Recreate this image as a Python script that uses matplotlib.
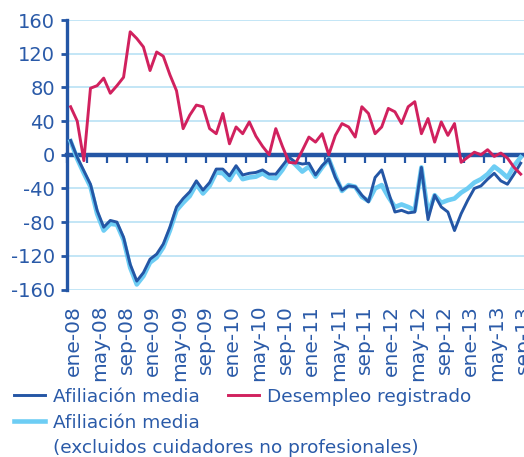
import matplotlib
matplotlib.use('Agg')
import matplotlib.pyplot as plt
import matplotlib.transforms as mtransforms
from matplotlib.lines import Line2D

# Colours
darkBlue = '#2456a5'
lightBlue = '#6dcdf4'
red = '#d1215e'
textBlue = '#2a5aa8'
gridBlue = '#c3e6f6'

plt.rcParams['font.family'] = ['DejaVu Sans']
plt.rcParams['axes.unicode_minus'] = False

# Data: monthly changes, ene-08 .. sep-13 (thousands)
afiliacion = [17, -3, -19, -35, -66, -86, -78, -80, -98, -130, -150, -140,
              -124, -118, -106, -86, -62, -52, -44, -31, -42, -33, -17, -17,
              -25, -13, -24, -22, -21, -18, -23, -23, -13, -3, -9, -11,
              -10, -24, -13, -5, -27, -42, -37, -38, -48, -56, -27, -18,
              -44, -68, -66, -69, -68, -15, -77, -48, -62, -68, -90, -70,
              -54, -40, -37, -29, -22, -31, -35, -23, -10]
afiliacion_excl = [16, -5, -22, -38, -70, -90, -82, -83, -101, -134, -154, -144,
                   -128, -122, -110, -90, -66, -57, -49, -35, -46, -37, -21, -22,
                   -30, -17, -29, -27, -26, -22, -27, -28, -18, -5, -12, -20,
                   -14, -26, -15, -5, -25, -43, -36, -38, -50, -55, -40, -36,
                   -50, -62, -59, -62, -66, -15, -70, -48, -57, -54, -52, -45,
                   -40, -33, -29, -23, -14, -20, -27, -13, -3]
desempleo = [57, 40, -7, 79, 82, 91, 73, 82, 92, 146, 138, 128,
             100, 122, 117, 95, 76, 31, 47, 59, 57, 31, 25, 49,
             13, 33, 25, 39, 22, 10, 0, 31, 10, -9, -10, 5,
             21, 15, 25, 0, 23, 37, 33, 21, 57, 49, 25, 33,
             55, 51, 37, 57, 63, 25, 43, 15, 39, 23, 37, -9,
             -3, 3, 0, 6, -2, 2, -4, -15, -23]
tick_labels = ['ene-08', 'may-08', 'sep-08', 'ene-09', 'may-09', 'sep-09',
               'ene-10', 'may-10', 'sep-10', 'ene-11', 'may-11', 'sep-11',
               'ene-12', 'may-12', 'sep-12', 'ene-13', 'may-13', 'sep-13']
y_ticks = [-160, -120, -80, -40, 0, 40, 80, 120, 160]

months = list(range(len(afiliacion)))

W, H = 524, 457
fig = plt.figure(figsize=(W / 100, H / 100), dpi=100)
ax = fig.add_axes([67.3 / W, 1 - 289.5 / H, 1 - 67.3 / W, 269.5 / H])

ax.plot(months, afiliacion_excl, color=lightBlue, lw=3.3, zorder=3,
        solid_joinstyle='round', clip_on=False)
ax.plot(months, afiliacion, color=darkBlue, lw=2.1, zorder=4,
        solid_joinstyle='round', clip_on=False)
ax.plot(months, desempleo, color=red, lw=2.1, zorder=5,
        solid_joinstyle='round', clip_on=False)

ax.set_xlim(-0.5, len(months) - 0.5)
ax.set_ylim(-160, 160)
ax.set_yticks(y_ticks)
ax.yaxis.grid(True, color=gridBlue, lw=1.4)
ax.set_axisbelow(True)

for s in ['top', 'right']:
    ax.spines[s].set_visible(False)
ax.spines['left'].set_color(darkBlue)
ax.spines['left'].set_linewidth(2.4)
ax.spines['bottom'].set_position(('data', 0))
ax.spines['bottom'].set_color(darkBlue)
ax.spines['bottom'].set_linewidth(3.2)

ax.tick_params(axis='y', colors=darkBlue, direction='out', length=4.5, width=2,
               labelsize=14, labelcolor=textBlue, pad=4.5)
# tick marks between categories, every 3 months
ax.set_xticks([m - 0.5 for m in months[::3]])
ax.tick_params(axis='x', colors=darkBlue, direction='out', length=5.5, width=1.6,
               labelbottom=False)

# Month labels at the bottom of the plot
sec = ax.secondary_xaxis('bottom')
sec.set_xticks(months[::4], tick_labels)
sec.tick_params(length=0, pad=11, labelsize=14.5, labelcolor=textBlue,
                labelrotation=90)
sec.spines['bottom'].set_visible(False)
shift = mtransforms.ScaledTranslation(2 / 72, 0, fig.dpi_scale_trans)
for label in sec.get_xticklabels():
    label.set_transform(label.get_transform() + shift)

# Legend, drawn by hand (figure pixels from top-left)
def legend_entry(x0, y_line, y_text, colour, lw, text):
    fig.add_artist(Line2D([x0 / W, (x0 + 31) / W], [1 - y_line / H, 1 - y_line / H],
                          transform=fig.transFigure, color=colour, lw=lw))
    fig.text((x0 + 39) / W, 1 - y_text / H, text, fontsize=13.3, color=textBlue,
             ha='left', va='baseline')

legend_entry(14, 395, 402, darkBlue, 2.1, 'Afiliación media')
legend_entry(228, 395, 402, red, 2.1, 'Desempleo registrado')
legend_entry(14, 421, 428, lightBlue, 3.3, 'Afiliación media')
fig.text(53 / W, 1 - 453 / H, '(excluidos cuidadores no profesionales)',
         fontsize=13.3, color=textBlue, ha='left', va='baseline')

plt.savefig('out.png', dpi=100)
